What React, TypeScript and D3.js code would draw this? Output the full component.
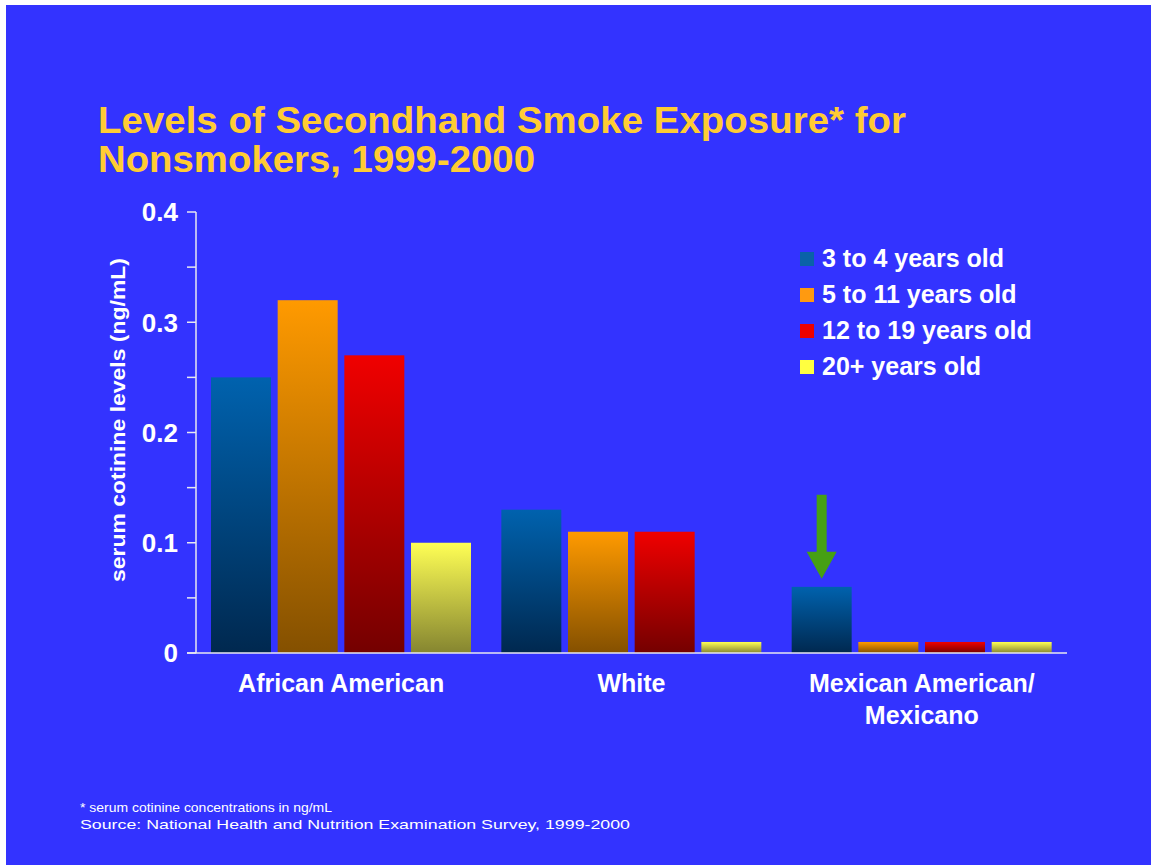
import React, { useEffect } from 'react';
import * as d3 from 'd3';

const W = 1151;
const H = 865;

const groups = ['African American', 'White', 'Mexican American/Mexicano'];
const groupLines = [['African American'], ['White'], ['Mexican American/', 'Mexicano']];
const series = ['3 to 4 years old', '5 to 11 years old', '12 to 19 years old', '20+ years old'];
// values per series, in group order
const age3to4 = [0.25, 0.13, 0.06];
const age5to11 = [0.32, 0.11, 0.01];
const age12to19 = [0.27, 0.11, 0.01];
const age20plus = [0.1, 0.01, 0.01];
const values = [age3to4, age5to11, age12to19, age20plus];
const majorTicks = [0, 0.1, 0.2, 0.3, 0.4];
const minorTicks = [0.05, 0.15, 0.25, 0.35];

const gradTop = ['#0062ae', '#ff9a00', '#f00000', '#ffff55'];
const gradBottom = ['#00284f', '#845000', '#740000', '#858530'];
const swatch = ['#0a62a8', '#ff9a10', '#ee0000', '#ffff40'];

const FONT = '"Liberation Sans", Arial, sans-serif';

const App = () => {
    useEffect(() => {
        document.body.style.margin = '0';
    }, []);

    const plot = { left: 196, right: 1067, top: 212, bottom: 653 };
    const x0 = d3.scaleBand<string>().domain(groups).range([plot.left, plot.right]);
    const x1 = d3
        .scaleBand<number>()
        .domain(d3.range(series.length))
        .range([15, 275])
        .paddingInner(0.1);
    const y = d3.scaleLinear([0, 0.4], [plot.bottom, plot.top]);

    const arrowBar = { g: 2, s: 0 };
    const ax = (x0(groups[arrowBar.g]) ?? 0) + (x1(arrowBar.s) ?? 0) + x1.bandwidth() / 2;
    const ay = y(values[arrowBar.s][arrowBar.g]) - 8;

    return (
        <svg width={W} height={H} style={{ display: 'block' }} fontFamily={FONT}>
            <defs>
                {gradTop.map((c, i) => (
                    <linearGradient key={i} id={`g${i}`} x1='0' y1='0' x2='0' y2='1'>
                        <stop offset='0%' stopColor={c} />
                        <stop offset='100%' stopColor={gradBottom[i]} />
                    </linearGradient>
                ))}
            </defs>
            <rect width={W} height={H} fill='#ffffff' />
            <rect x={6} y={5} width={W - 6} height={H - 5} fill='#3333ff' />

            <g fill='#ffcc33' fontWeight='bold' fontSize={36}>
                <text x={98} y={133} textLength={808} lengthAdjust='spacingAndGlyphs'>
                    Levels of Secondhand Smoke Exposure* for
                </text>
                <text x={98} y={172} textLength={437} lengthAdjust='spacingAndGlyphs'>
                    Nonsmokers, 1999-2000
                </text>
            </g>

            {/* bars */}
            {groups.map((g, gi) => (
                <g key={g} transform={`translate(${x0(g)},0)`}>
                    {series.map((s, si) => {
                        const v = values[si][gi];
                        return (
                            <rect
                                key={s}
                                x={x1(si)}
                                y={y(v)}
                                width={x1.bandwidth()}
                                height={plot.bottom - y(v)}
                                fill={`url(#g${si})`}
                            />
                        );
                    })}
                </g>
            ))}

            {/* axes */}
            <g stroke='#e8e8f0' strokeWidth={1.5}>
                <line x1={plot.left} x2={plot.left} y1={plot.top} y2={plot.bottom} />
                <line x1={plot.left - 9} x2={plot.right} y1={plot.bottom} y2={plot.bottom} />
                {majorTicks.concat(minorTicks).map(t => (
                    <line key={t} x1={plot.left - 9} x2={plot.left} y1={y(t)} y2={y(t)} />
                ))}
            </g>
            <g fill='#ffffff' fontWeight='bold' fontSize={26} textAnchor='end'>
                {majorTicks.map(t => (
                    <text key={t} x={178} y={y(t)} dy='0.36em'>
                        {t === 0 ? '0' : t.toFixed(1)}
                    </text>
                ))}
            </g>
            <text
                transform='translate(125,420) rotate(-90)'
                textAnchor='middle'
                fill='#ffffff'
                fontWeight='bold'
                fontSize={20}
                textLength={324}
                lengthAdjust='spacingAndGlyphs'
            >
                serum cotinine levels (ng/mL)
            </text>

            {/* x labels */}
            <g fill='#ffffff' fontWeight='bold' fontSize={25} textAnchor='middle'>
                {groups.map((g, gi) =>
                    groupLines[gi].map((line, li) => (
                        <text key={line} x={(x0(g) ?? 0) + x0.bandwidth() / 2} y={692 + li * 32}>
                            {line}
                        </text>
                    ))
                )}
            </g>

            {/* arrow */}
            <path
                d={`M${ax - 5},${ay - 84} L${ax + 5},${ay - 84} L${ax + 5},${ay - 27} L${ax + 15},${ay - 27} L${ax},${ay} L${ax - 15},${ay - 27} L${ax - 5},${ay - 27} Z`}
                fill='#46a014'
            />

            {/* legend */}
            <g fontWeight='bold' fontSize={25} fill='#ffffff'>
                {series.map((s, i) => (
                    <g key={s} transform={`translate(800,${258 + i * 36})`}>
                        <rect x={0} y={-6} width={14} height={14} fill={swatch[i]} />
                        <text x={22} y={0} dy='0.36em'>
                            {s}
                        </text>
                    </g>
                ))}
            </g>

            {/* footnote */}
            <g fill='#ffffff' fontSize={13}>
                <text x={80} y={812} textLength={252} lengthAdjust='spacingAndGlyphs'>
                    * serum cotinine concentrations in ng/mL
                </text>
                <text x={80} y={829} textLength={550} lengthAdjust='spacingAndGlyphs'>
                    Source: National Health and Nutrition Examination Survey, 1999-2000
                </text>
            </g>
        </svg>
    );
};

export default App;
